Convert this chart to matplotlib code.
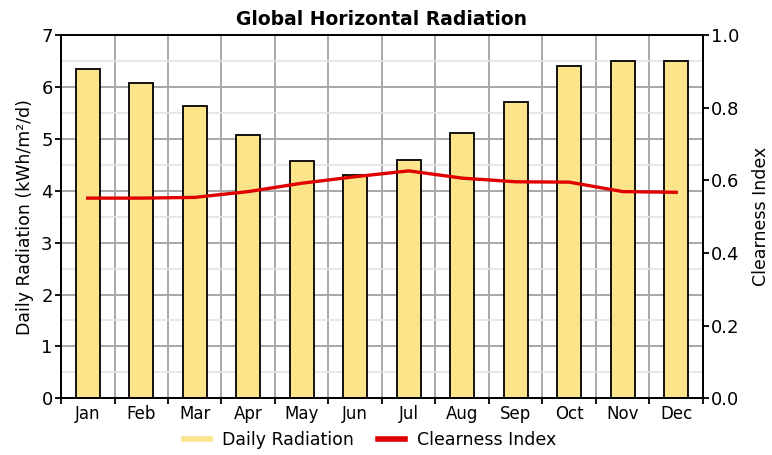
import matplotlib
matplotlib.use("Agg")
import matplotlib.pyplot as plt
from matplotlib.lines import Line2D
import numpy as np

months = ["Jan", "Feb", "Mar", "Apr", "May", "Jun", "Jul", "Aug", "Sep", "Oct", "Nov", "Dec"]
daily_radiation = [6.35, 6.07, 5.64, 5.07, 4.57, 4.30, 4.60, 5.11, 5.71, 6.41, 6.49, 6.49]
clearness_index = [0.551, 0.551, 0.553, 0.569, 0.592, 0.610, 0.626, 0.606, 0.596, 0.595, 0.569, 0.567]
left_ticks = [0, 1, 2, 3, 4, 5, 6, 7]
right_ticks = [0.0, 0.2, 0.4, 0.6, 0.8, 1.0]

plt.rcParams['font.family'] = ['DejaVu Sans']

fig = plt.figure(figsize=(7.72, 4.55), dpi=100)
ax = fig.add_axes([61/772, 1-398.3/455, (703-61)/772, (398.3-35)/455])

x = np.arange(len(months))
ax.set_xlim(-0.5, len(months) - 0.5)
ax.set_ylim(0, 7)

# grid
for b in np.arange(0.5, len(months) - 0.5, 1):
    ax.axvline(b, color="#a8a8a8", lw=1.4, zorder=0)
for v in left_ticks[1:-1]:
    ax.axhline(v, color="#a8a8a8", lw=1.4, zorder=0)
for v in np.arange(0.5, 7, 1):
    ax.axhline(v, color="#e4e4e4", lw=1.2, zorder=0)

ax.bar(x, daily_radiation, width=0.44, color="#fbe48a", edgecolor="black", linewidth=1.3, zorder=2)

ax.set_xticks(np.arange(-0.5, len(months) + 0.5, 1))
ax.set_xticklabels([])
ax.set_xticks(x, minor=True)
ax.set_xticklabels(months, minor=True, fontsize=12)
ax.tick_params(axis="x", which="minor", length=0, pad=5)
ax.tick_params(axis="x", which="major", length=4, width=1.3, direction="out")
ax.set_yticks(left_ticks)
ax.set_yticklabels([str(t) for t in left_ticks], fontsize=13)
ax.tick_params(axis="y", length=4, width=1.3, direction="out", pad=2)
for s in ax.spines.values():
    s.set_linewidth(1.3)
ax.set_ylabel("Daily Radiation (kWh/m²/d)", fontsize=12.5, labelpad=5)

ax2 = ax.twinx()
ax2.set_ylim(0, 1.0)
ax2.plot(x, clearness_index, color="#e00000", lw=2.4, zorder=3)
ax2.set_yticks(right_ticks)
ax2.set_yticklabels([f"{t:.1f}" for t in right_ticks], fontsize=13)
ax2.tick_params(axis="y", length=4, width=1.3, direction="out", pad=2)
for s in ax2.spines.values():
    s.set_linewidth(1.3)
ax2.set_ylabel("Clearness Index", fontsize=12.5, labelpad=9)

ax.set_title("Global Horizontal Radiation", fontsize=13.5, fontweight="bold", pad=7)

handles = [Line2D([0], [0], color="#fbe48a", lw=4),
           Line2D([0], [0], color="#e00000", lw=4)]
fig.legend(handles, ["Daily Radiation", "Clearness Index"], loc="center",
           bbox_to_anchor=(370/772, 1-440/455), ncol=2, frameon=False,
           fontsize=12.5, handlelength=1.5, handletextpad=0.7, columnspacing=1.4)

fig.savefig("out.png", dpi=100)
